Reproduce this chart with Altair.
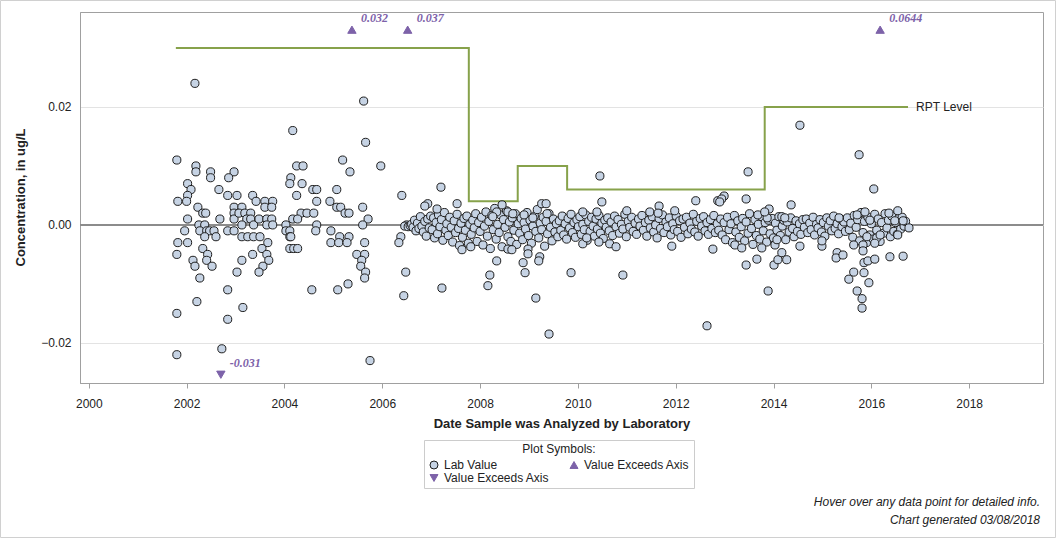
import altair as alt
import pandas as pd

# ---------------- data (decimal year, concentration ug/L) ----------------
lab_2001_2004 = [
    (2002.17, 0.024), (2001.80, 0.011), (2002.19, 0.010), (2002.19, 0.009), (2002.49, 0.009),
    (2002.49, 0.008), (2002.97, 0.009), (2002.86, 0.008), (2002.02, 0.007), (2002.09, 0.006),
    (2002.02, 0.005), (2002.00, 0.004), (2001.82, 0.004), (2002.66, 0.006), (2002.84, 0.005),
    (2003.03, 0.005), (2003.35, 0.005), (2003.42, 0.004), (2003.60, 0.004), (2003.76, 0.004),
    (2002.23, 0.003), (2002.33, 0.002), (2002.39, 0.002), (2002.97, 0.003), (2003.13, 0.003),
    (2003.60, 0.003), (2003.74, 0.003), (2002.02, 0.001), (2002.25, 0.000), (2002.37, 0.000),
    (2002.68, 0.001), (2002.97, 0.002), (2002.97, 0.001), (2003.07, 0.002), (2003.19, 0.002),
    (2003.31, 0.002), (2003.23, 0.001), (2003.13, 0.000), (2003.31, 0.001), (2003.37, 0.000),
    (2003.48, 0.001), (2003.64, 0.001), (2003.74, 0.001), (2003.64, 0.000), (2003.76, 0.000),
    (2004.03, 0.000), (2004.03, -0.001), (2004.11, -0.001), (2001.96, -0.001), (2002.27, -0.001),
    (2002.41, -0.001), (2002.47, -0.001), (2002.56, -0.001), (2002.84, -0.001), (2002.97, -0.001),
    (2002.37, -0.002), (2002.60, -0.002), (2003.13, -0.002), (2003.25, -0.002), (2003.37, -0.002),
    (2003.50, -0.002), (2003.66, -0.003), (2004.11, -0.002), (2001.82, -0.003), (2002.02, -0.003),
    (2004.11, -0.004), (2004.19, -0.004), (2004.27, -0.004), (2001.80, -0.005), (2002.33, -0.004),
    (2002.43, -0.005), (2002.41, -0.006), (2002.52, -0.007), (2002.13, -0.006), (2002.17, -0.007),
    (2003.35, -0.005), (2003.54, -0.004), (2003.64, -0.005), (2003.68, -0.006), (2003.56, -0.007),
    (2003.48, -0.008), (2003.13, -0.006), (2003.03, -0.008), (2002.27, -0.009), (2002.84, -0.011),
    (2002.21, -0.013), (2003.15, -0.014), (2001.80, -0.015), (2002.84, -0.016), (2001.80, -0.022),
    (2002.72, -0.021),
]

lab_2004_2006 = [
    (2004.17, 0.016), (2005.62, 0.021), (2005.66, 0.014), (2005.19, 0.011), (2005.34, 0.009),
    (2005.97, 0.010), (2004.25, 0.010), (2004.38, 0.010), (2004.13, 0.008), (2004.11, 0.007),
    (2004.36, 0.007), (2004.25, 0.005), (2004.58, 0.006), (2004.66, 0.006), (2005.07, 0.006),
    (2004.66, 0.004), (2004.93, 0.004), (2005.07, 0.003), (2005.15, 0.003), (2005.24, 0.002),
    (2005.32, 0.002), (2005.60, 0.003), (2005.71, 0.001), (2005.60, 0.000), (2006.40, 0.005),
    (2004.34, 0.002), (2004.46, 0.002), (2004.60, 0.002), (2004.17, 0.001), (2004.27, 0.001),
    (2004.66, 0.000), (2004.64, -0.001), (2004.13, -0.002), (2004.95, -0.001), (2005.13, -0.002),
    (2005.32, -0.002), (2004.95, -0.003), (2005.11, -0.003), (2005.28, -0.003), (2005.64, -0.003),
    (2005.48, -0.005), (2005.64, -0.005), (2005.58, -0.006), (2005.56, -0.007), (2005.66, -0.008),
    (2005.64, -0.009), (2004.56, -0.011), (2005.09, -0.011), (2005.30, -0.010), (2006.50, 0.000),
    (2006.38, -0.002), (2006.34, -0.003), (2006.48, -0.008), (2006.44, -0.012), (2005.75, -0.023),
]

lab_2006_2017_band = [
    (2006.46, -0.0002), (2006.53, -0.0003), (2006.57, -0.0001), (2006.60, 0.0001), (2006.63, -0.0004),
    (2006.66, 0.0008), (2006.69, -0.0010), (2006.72, 0.0003), (2006.75, -0.0006), (2006.78, 0.0014),
    (2006.81, -0.0002), (2006.84, -0.0012), (2006.87, 0.0006), (2006.90, -0.0019), (2006.93, 0.0010),
    (2006.96, -0.0005), (2006.99, 0.0015),
    (2007.02, -0.0008), (2007.05, 0.0012), (2007.07, -0.0022), (2007.10, 0.0004), (2007.13, -0.0015),
    (2007.15, 0.0017), (2007.18, -0.0003), (2007.21, 0.0009), (2007.24, -0.0026), (2007.27, 0.0021),
    (2007.30, -0.0009), (2007.32, 0.0002), (2007.35, -0.0018), (2007.38, 0.0013), (2007.41, -0.0004),
    (2007.44, -0.0029), (2007.47, 0.0007), (2007.50, -0.0013), (2007.53, 0.0018), (2007.56, -0.0006),
    (2007.58, -0.0035), (2007.61, 0.0003), (2007.64, -0.0021), (2007.67, 0.0011), (2007.70, -0.0009),
    (2007.73, 0.0015), (2007.76, -0.0031), (2007.79, 0.0001),
    (2007.82, -0.0016), (2007.85, 0.0008), (2007.88, -0.0005), (2007.91, 0.0019), (2007.94, -0.0028),
    (2007.97, 0.0004), (2008.00, -0.0011), (2008.03, 0.0013), (2008.06, -0.0034), (2008.09, -0.0002),
    (2008.12, 0.0022), (2008.15, -0.0019), (2008.18, 0.0006), (2008.21, -0.0040), (2008.24, 0.0016),
    (2008.27, -0.0008), (2008.30, 0.0028), (2008.33, -0.0024), (2008.36, 0.0001), (2008.39, -0.0013),
    (2008.42, 0.0017), (2008.45, -0.0037), (2008.48, 0.0009), (2008.51, -0.0004), (2008.54, 0.0024),
    (2008.57, -0.0020), (2008.60, 0.0005), (2008.63, -0.0028), (2008.66, 0.0012), (2008.69, -0.0009),
    (2008.72, 0.0019), (2008.75, -0.0033), (2008.78, 0.0002),
    (2008.81, -0.0014), (2008.84, 0.0011), (2008.87, -0.0025), (2008.90, 0.0004), (2008.93, -0.0007),
    (2008.96, 0.0021), (2008.99, -0.0018), (2009.02, 0.0008), (2009.05, -0.0031), (2009.08, -0.0002),
    (2009.11, 0.0015), (2009.14, -0.0011), (2009.17, 0.0026), (2009.20, -0.0022), (2009.23, 0.0003),
    (2009.26, -0.0008), (2009.29, 0.0013), (2009.32, -0.0036), (2009.35, 0.0006), (2009.38, -0.0015),
    (2009.41, 0.0019), (2009.44, -0.0004), (2009.47, -0.0027), (2009.50, 0.0010), (2009.53, -0.0012),
    (2009.56, 0.0002), (2009.59, -0.0020),
    (2009.62, 0.0007), (2009.65, -0.0009), (2009.68, 0.0015), (2009.71, -0.0017), (2009.74, 0.0002),
    (2009.77, -0.0024), (2009.80, 0.0011), (2009.83, -0.0005), (2009.86, 0.0018), (2009.89, -0.0013),
    (2009.92, 0.0004), (2009.95, -0.0021), (2009.98, 0.0009), (2010.01, -0.0003), (2010.04, 0.0014),
    (2010.07, -0.0016), (2010.10, 0.0001), (2010.13, -0.0008), (2010.16, 0.0017), (2010.19, -0.0026),
    (2010.22, 0.0006), (2010.25, -0.0011), (2010.28, 0.0013), (2010.31, -0.0002), (2010.34, -0.0019),
    (2010.37, 0.0010), (2010.40, -0.0007), (2010.43, 0.0016), (2010.46, -0.0014), (2010.49, 0.0003),
    (2010.52, -0.0023), (2010.55, 0.0008), (2010.58, -0.0004),
    (2010.61, 0.0012), (2010.64, -0.0010), (2010.68, 0.0005), (2010.71, -0.0018), (2010.75, 0.0015),
    (2010.78, -0.0003), (2010.82, 0.0009), (2010.85, -0.0014), (2010.89, 0.0001), (2010.92, -0.0007),
    (2010.96, 0.0018), (2010.99, -0.0020), (2011.03, 0.0006), (2011.06, -0.0004), (2011.10, 0.0013),
    (2011.13, -0.0011), (2011.17, 0.0003), (2011.20, -0.0016), (2011.24, 0.0010), (2011.27, -0.0002),
    (2011.31, 0.0016), (2011.34, -0.0009), (2011.38, 0.0004), (2011.41, -0.0019), (2011.45, 0.0008),
    (2011.48, -0.0005), (2011.52, 0.0014), (2011.55, -0.0012), (2011.59, 0.0000), (2011.62, -0.0022),
    (2011.66, 0.0011), (2011.69, -0.0006), (2011.73, 0.0017), (2011.76, -0.0013), (2011.80, 0.0005),
    (2011.83, -0.0003), (2011.87, 0.0012), (2011.90, -0.0017), (2011.94, 0.0002), (2011.97, -0.0008),
    (2012.01, 0.0015), (2012.04, -0.0011), (2012.08, 0.0007), (2012.11, -0.0021), (2012.15, 0.0010),
    (2012.18, -0.0004), (2012.22, 0.0013), (2012.25, -0.0015), (2012.29, 0.0003), (2012.32, -0.0007),
    (2012.36, 0.0018), (2012.39, -0.0012), (2012.43, 0.0006), (2012.46, -0.0019), (2012.50, 0.0011),
    (2012.53, -0.0002), (2012.57, 0.0014), (2012.60, -0.0010), (2012.64, 0.0004), (2012.67, -0.0016),
    (2012.71, 0.0009), (2012.74, -0.0006), (2012.78, 0.0016), (2012.81, -0.0013), (2012.85, 0.0002),
    (2012.88, -0.0009),
    (2012.92, 0.0010), (2012.95, -0.0017), (2012.99, 0.0004), (2013.02, -0.0025), (2013.06, 0.0013),
    (2013.09, -0.0008), (2013.13, 0.0002), (2013.16, -0.0030), (2013.20, 0.0016), (2013.23, -0.0012),
    (2013.27, 0.0007), (2013.30, -0.0021), (2013.34, -0.0003), (2013.37, 0.0011), (2013.41, -0.0027),
    (2013.44, 0.0005), (2013.48, -0.0014), (2013.51, 0.0019), (2013.55, -0.0006), (2013.58, -0.0033),
    (2013.62, 0.0009), (2013.65, -0.0018), (2013.69, 0.0001), (2013.72, -0.0024), (2013.76, 0.0014),
    (2013.79, -0.0010), (2013.83, 0.0004), (2013.86, -0.0029), (2013.90, 0.0008),
    (2013.93, -0.0015), (2013.97, 0.0011), (2014.00, -0.0022), (2014.04, 0.0003), (2014.07, -0.0009),
    (2014.11, 0.0014), (2014.14, -0.0018), (2014.18, -0.0002), (2014.21, 0.0008), (2014.25, -0.0025),
    (2014.28, 0.0005), (2014.32, -0.0012), (2014.35, 0.0012), (2014.39, -0.0006), (2014.42, -0.0020),
    (2014.46, 0.0007), (2014.49, -0.0011), (2014.53, 0.0002), (2014.56, -0.0016), (2014.60, 0.0009),
    (2014.63, -0.0004), (2014.67, 0.0010), (2014.70, -0.0013), (2014.74, 0.0003), (2014.77, -0.0008),
    (2014.81, 0.0013), (2014.84, -0.0017), (2014.88, 0.0001), (2014.91, -0.0005), (2014.95, 0.0009),
    (2014.98, -0.0012), (2015.02, 0.0004), (2015.05, -0.0019), (2015.09, 0.0012), (2015.12, -0.0002),
    (2015.16, 0.0007), (2015.19, -0.0010), (2015.23, 0.0015), (2015.26, -0.0006), (2015.30, 0.0002),
    (2015.33, -0.0015), (2015.37, 0.0010), (2015.40, -0.0003), (2015.44, 0.0005), (2015.47, -0.0011),
    (2015.51, 0.0012), (2015.55, -0.0008), (2015.58, 0.0003), (2015.62, -0.0021), (2015.65, 0.0016),
    (2015.69, -0.0004), (2015.72, 0.0009), (2015.76, -0.0027), (2015.79, 0.0021), (2015.83, -0.0013),
    (2015.86, 0.0006), (2015.90, -0.0030), (2015.93, 0.0013), (2015.97, -0.0017), (2016.00, 0.0002),
    (2016.04, -0.0024), (2016.07, 0.0018), (2016.11, -0.0009), (2016.14, 0.0010), (2016.18, -0.0028),
    (2016.21, 0.0004), (2016.25, -0.0014), (2016.28, 0.0019), (2016.32, -0.0005), (2016.35, 0.0008),
    (2016.39, -0.0020), (2016.42, 0.0015), (2016.46, -0.0011), (2016.49, 0.0004), (2016.53, -0.0016),
    (2016.56, 0.0011), (2016.60, -0.0007), (2016.63, 0.0013), (2016.67, -0.0002), (2016.70, 0.0006),
]

lab_2006_2017_spread = [
    (2007.20, 0.0064), (2006.93, 0.0036), (2006.87, 0.0032), (2007.53, 0.0036), (2007.12, 0.0027),
    (2008.45, 0.0034), (2009.26, 0.0036), (2009.35, 0.0036), (2009.37, 0.0019), (2008.34, 0.0022),
    (2008.26, 0.0014), (2008.57, 0.0022), (2008.67, 0.0019), (2008.90, 0.0017), (2009.08, 0.0012),
    (2007.63, -0.0042), (2007.81, -0.0037), (2008.34, -0.0061), (2008.20, -0.0085), (2008.16, -0.0103),
    (2008.57, -0.0041), (2008.65, -0.0042), (2008.98, -0.0041), (2008.98, -0.0049), (2008.88, -0.0064),
    (2008.92, -0.0081), (2009.22, -0.0054), (2009.20, -0.0061), (2007.22, -0.0107), (2009.14, -0.0124),
    (2009.41, -0.0185), (2009.86, -0.0081), (2010.92, -0.0085), (2010.45, 0.0083), (2010.49, 0.0039),
    (2010.10, 0.0022), (2010.39, 0.0022), (2011.00, 0.0024), (2011.47, 0.0022), (2011.66, 0.0032),
    (2011.64, 0.0020), (2011.98, 0.0024), (2011.92, -0.0036), (2012.76, -0.0041), (2012.64, -0.0171),
    (2010.10, -0.0032), (2010.43, -0.0029), (2010.65, -0.0032), (2010.78, -0.0037), (2010.18, -0.0022),
    (2012.41, 0.0041), (2012.86, 0.0041), (2014.54, 0.0169), (2015.75, 0.0119), (2013.48, 0.0090),
    (2016.05, 0.0061), (2012.99, 0.0049), (2012.94, 0.0044), (2012.90, 0.0039), (2013.44, 0.0044),
    (2014.36, 0.0034), (2013.91, 0.0027), (2013.87, 0.0012), (2013.68, 0.0017), (2013.82, 0.0022),
    (2014.17, 0.0014), (2014.23, 0.0012), (2015.71, 0.0017), (2015.87, 0.0022), (2015.97, 0.0008),
    (2016.36, 0.0020), (2016.54, 0.0024), (2016.48, 0.0007), (2016.65, 0.0007), (2015.34, 0.0012),
    (2016.77, -0.0005), (2013.21, -0.0034), (2013.35, -0.0039), (2013.44, -0.0068), (2013.66, -0.0058),
    (2013.76, -0.0039), (2014.01, -0.0068), (2014.09, -0.0059), (2014.17, -0.0047), (2014.27, -0.0059),
    (2014.03, -0.0034), (2014.07, -0.0025), (2014.54, -0.0036), (2014.99, -0.0036), (2014.99, -0.0027),
    (2015.30, -0.0047), (2015.28, -0.0056), (2015.42, -0.0051), (2015.64, -0.0034), (2015.83, -0.0034),
    (2015.83, -0.0044), (2015.85, -0.0064), (2015.93, -0.0061), (2016.07, -0.0058), (2016.38, -0.0054),
    (2016.65, -0.0053), (2015.64, -0.0080), (2015.54, -0.0092), (2015.85, -0.0081), (2015.95, -0.0098),
    (2015.71, -0.0112), (2015.81, -0.0125), (2015.81, -0.0141), (2013.89, -0.0112), (2016.54, -0.0017),
    (2016.11, -0.0022), (2016.18, -0.0017), (2016.07, -0.0031), (2015.91, -0.0020),
]

# reporting level steps (change dates and levels)
rpt_year = [2001.78, 2007.77, 2008.77, 2009.78, 2013.82, 2016.75]
rpt_level = [0.030, 0.004, 0.010, 0.006, 0.020, 0.020]

# values beyond the axis range
exceed_year = [2002.70, 2005.38, 2006.52, 2016.18]
exceed_value = [-0.031, 0.032, 0.037, 0.0644]
exceed_label = ["-0.031", "0.032", "0.037", "0.0644"]

x_ticks = [2000, 2002, 2004, 2006, 2008, 2010, 2012, 2014, 2016, 2018]
y_ticks = [-0.02, 0.0, 0.02]

footnotes = ["Hover over any data point for detailed info.", "Chart generated 03/08/2018"]

# ---------------- style constants ----------------
TOP_EDGE = 0.0331       # where off-scale high values are drawn
BOTTOM_EDGE = -0.0254   # where off-scale low values are drawn
FONT = "Liberation Sans"
PURPLE = "#7d62a9"
GREEN = "#87a24b"

# ---------------- tables ----------------
lab_df = pd.DataFrame(lab_2001_2004 + lab_2004_2006 + lab_2006_2017_band + lab_2006_2017_spread,
                      columns=["year", "conc"])
lab_df["kind"] = "Lab Value"

exc_df = pd.DataFrame({"year": exceed_year, "conc": exceed_value, "label": exceed_label})
exc_df["kind"] = ["down" if v < 0 else "up" for v in exceed_value]
exc_df["plot_y"] = [BOTTOM_EDGE if v < 0 else TOP_EDGE for v in exceed_value]

rpt_df = pd.DataFrame({"year": rpt_year, "conc": rpt_level})

x_scale = alt.Scale(domain=[1999.82, 2019.51], nice=False, zero=False)
y_scale = alt.Scale(domain=[-0.0268, 0.0361], nice=False, zero=False)

x_axis = alt.Axis(values=x_ticks, format="d", title="Date Sample was Analyzed by Laboratory",
                  grid=False, tickSize=5, labelPadding=10, titlePadding=8)
y_axis = alt.Axis(values=y_ticks, format=".2f", title="Concentration, in ug/L",
                  grid=True, gridColor="#e3e3e3", tickSize=0, labelPadding=9,
                  titleX=-60, titleY=185, titleBaseline="middle")


def X(field="year:Q"):
    return alt.X(field, scale=x_scale, axis=x_axis)


def Y(field="conc:Q"):
    return alt.Y(field, scale=y_scale, axis=y_axis)


kinds = ["Lab Value", "up", "down"]
legend = alt.Legend(title="Plot Symbols:", orient="none", legendX=344, legendY=428, columns=2,
                    direction="horizontal",
                    titleAnchor="middle", strokeColor="#cccccc", padding=4, titlePadding=3,
                    columnPadding=18, rowPadding=1, symbolSize=64, symbolStrokeWidth=1,
                    labelExpr="datum.label == 'Lab Value' ? 'Lab Value' : 'Value Exceeds Axis'",
                    labelFont=FONT, labelFontSize=12, labelColor="#222222",
                    titleFont=FONT, titleFontSize=12, titleFontWeight="normal", titleColor="#222222")
shape_enc = alt.Shape("kind:N", scale=alt.Scale(domain=kinds, range=["circle", "triangle-up", "triangle-down"]), legend=legend)
fill_enc = alt.Fill("kind:N", scale=alt.Scale(domain=kinds, range=["#c6d3e4", PURPLE, PURPLE]), legend=legend)
stroke_enc = alt.Stroke("kind:N", scale=alt.Scale(domain=kinds, range=["#1e1e1e", PURPLE, PURPLE]), legend=legend)

zero_line = alt.Chart(pd.DataFrame({"conc": [0.0]})).mark_rule(color="#8c8c8c", strokeWidth=2).encode(
    y=Y())

rpt_line = alt.Chart(rpt_df).mark_line(interpolate="step-after", color=GREEN, strokeWidth=2).encode(
    x=X(), y=Y())

rpt_text = alt.Chart(rpt_df.tail(1)).mark_text(align="left", baseline="middle", dx=8, font=FONT,
                                               fontSize=12, color="#222222").encode(
    x=X(), y=Y(), text=alt.value("RPT Level"))

points = alt.Chart(lab_df).mark_point(filled=True, size=66, strokeWidth=1, opacity=1).encode(
    x=X(), y=Y(), shape=shape_enc, fill=fill_enc, stroke=stroke_enc,
    tooltip=[alt.Tooltip("year:Q", format=".2f", title="Date"), alt.Tooltip("conc:Q", format=".4f", title="Value")])

tri = alt.Chart(exc_df).mark_point(filled=True, size=70, strokeWidth=1, opacity=1).encode(
    x=X(), y=Y("plot_y:Q"),
    shape=shape_enc, fill=fill_enc, stroke=stroke_enc,
    tooltip=[alt.Tooltip("label:N", title="Value")])

tri_text = alt.Chart(exc_df).mark_text(align="left", baseline="middle", dx=9, dy=-12,
                                       font="Liberation Serif", fontSize=12, fontStyle="italic",
                                       fontWeight="bold", color=PURPLE).encode(
    x=X(), y=Y("plot_y:Q"), text="label:N")

foot1 = alt.Chart(pd.DataFrame({"t": [footnotes[0]]})).mark_text(
    align="right", baseline="middle", font=FONT, fontSize=12, fontStyle="italic", color="#222222").encode(
    x=alt.value(960), y=alt.value(490), text="t:N")
foot2 = alt.Chart(pd.DataFrame({"t": [footnotes[1]]})).mark_text(
    align="right", baseline="middle", font=FONT, fontSize=12, fontStyle="italic", color="#222222").encode(
    x=alt.value(960), y=alt.value(508), text="t:N")

frame = alt.Chart(pd.DataFrame({"f": [1]})).mark_rect(fill="transparent", stroke="#d0d0d0", strokeWidth=1).encode(
    x=alt.value(-79.5), x2=alt.value(975.5), y=alt.value(-11.5), y2=alt.value(525.5))

chart = alt.layer(
    zero_line, rpt_line, rpt_text, points, tri, tri_text, foot1, foot2, frame
).properties(
    width=963, height=371,
    padding={"left": 80, "top": 12, "right": 13, "bottom": 155},
    autosize=alt.AutoSizeParams(type="none"),
    background="white",
).configure_view(
    stroke="#a0a0a0", strokeWidth=1
).configure_axis(
    labelFont=FONT, titleFont=FONT, labelFontSize=12, titleFontSize=13, titleFontWeight="bold",
    labelColor="#222222", titleColor="#222222", domainColor="#a0a0a0", tickColor="#a0a0a0"
)

chart.save("out.html", embed_options={"renderer": "svg", "actions": False})
